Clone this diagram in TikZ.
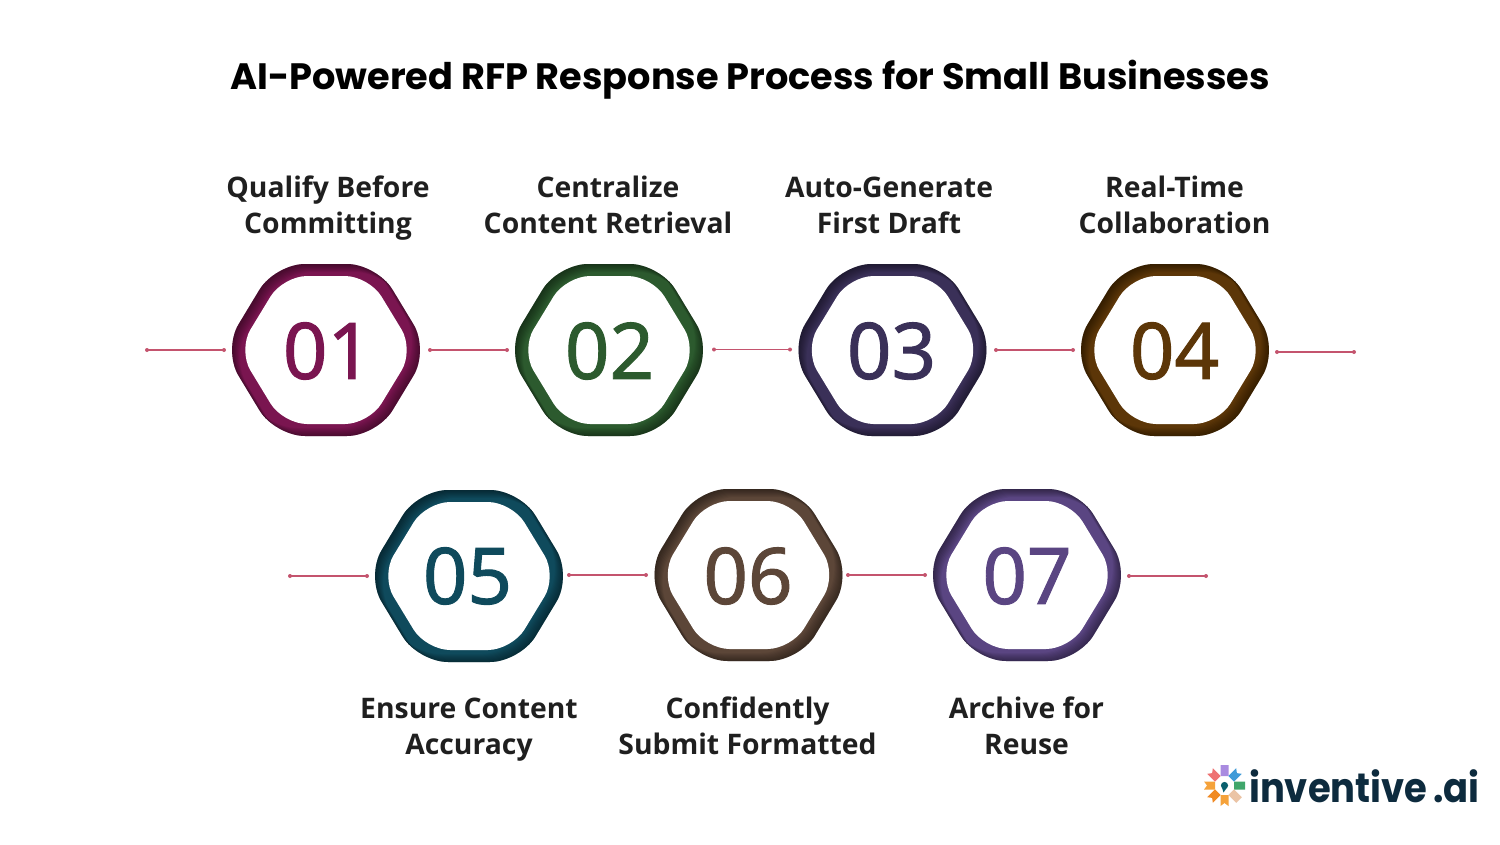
\documentclass[tikz,border=0pt]{standalone}
\usepackage{fontspec}
\setmainfont{Open Sans}
\newfontfamily\titlefont{Poppins}
\newfontfamily\labelfont{Open Sans}
\newfontfamily\numfont{Noto Sans}[FakeBold=1.2]
\newfontfamily\logofont{Poppins}[FakeStretch=0.9]
\usetikzlibrary{calc}
\definecolor{cA}{HTML}{7A1550}\definecolor{cB}{HTML}{2C5A2E}\definecolor{cC}{HTML}{3A3058}
\definecolor{cD}{HTML}{5C3608}\definecolor{cE}{HTML}{0F4A5C}\definecolor{cF}{HTML}{5C4638}
\definecolor{cG}{HTML}{5A4582}\definecolor{lnk}{HTML}{C4546E}\definecolor{logoink}{HTML}{0D2B3E}
\newcommand{\hexouterat}[3]{[rounded corners=30pt] ($(#1)+(-51+#2,-86+#3)$) -- ($(#1)+(51+#2,-86+#3)$) -- ($(#1)+(103+#2,#3)$) -- ($(#1)+(51+#2,86+#3)$) -- ($(#1)+(-51+#2,86+#3)$) -- ($(#1)+(-103+#2,#3)$) -- cycle}
\newcommand{\hexouter}[1]{\hexouterat{#1}{0}{0}}
\newcommand{\hexinner}[1]{[rounded corners=24pt] ($(#1)+(-43,-74)$) -- ($(#1)+(43,-74)$) -- ($(#1)+(88,0)$) -- ($(#1)+(43,74)$) -- ($(#1)+(-43,74)$) -- ($(#1)+(-88,0)$) -- cycle}
\newcommand{\hexring}[4]{%
  \coordinate (#1) at (#2,#3);
  \fill[#4] \hexouter{#1};
  \begin{scope}
    \clip \hexouter{#1};
    \foreach \d in {1,2,...,8}{
      \fill[black,opacity=.06,even odd rule] ($(#1)+(-130,-110)$) rectangle ($(#1)+(130,110)$)
        \hexouterat{#1}{\d}{\d};
      \fill[black,opacity=.05,even odd rule] ($(#1)+(-130,-110)$) rectangle ($(#1)+(130,110)$)
        \hexouterat{#1}{-\d}{-\d};
    }
  \end{scope}
  \fill[white] \hexinner{#1};
}
\tikzset{
  x=1pt,y=-1pt,
  heading/.style={font=\titlefont\bfseries\fontsize{36.7}{40}\selectfont,text=black,inner sep=0pt},
  steplabel/.style={font=\labelfont\bfseries\fontsize{28.3}{36}\selectfont,text=black!88,align=center,inner sep=0pt},
  stepnum/.style={font=\numfont\fontsize{78}{84}\selectfont,inner sep=0pt},
  link/.style={draw=lnk,line width=1.1pt},
}
\newcommand{\linkfrom}[3]{%
  \coordinate (#1a) at (#2);\coordinate (#1b) at (#3);
  \draw[link] (#1a) -- (#1b);
  \fill[lnk] (#1a) circle (2pt) (#1b) circle (2pt);}
\newcommand{\twolines}[2]{\strut #1\\\strut #2}
\begin{document}
\begin{tikzpicture}
\useasboundingbox (0,0) rectangle (1500,844);
\fill[white] (0,0) rectangle (1500,844);
\node[heading] (title) at (750,80) {AI-Powered RFP Response Process for Small Businesses};
\hexring{h1}{326}{350}{cA}
\hexring{h2}{609}{350}{cB}
\hexring{h3}{892.5}{350}{cC}
\hexring{h4}{1175}{350}{cD}
\hexring{h5}{469}{576}{cE}
\hexring{h6}{748.5}{575}{cF}
\hexring{h7}{1027}{575}{cG}
\node[stepnum,text=cA] (n1) at (327.5,351) {01};
\node[stepnum,text=cB] (n2) at (609.5,351) {02};
\node[stepnum,text=cC] (n3) at (891.5,351) {03};
\node[stepnum,text=cD] (n4) at (1174.5,351) {04};
\node[stepnum,text=cE] (n5) at (467.5,576) {05};
\node[stepnum,text=cF] (n6) at (748,576) {06};
\node[stepnum,text=cG] (n7) at (1027,576) {07};
\node[steplabel] (l1) at (328,208) {\twolines{Qualify Before}{Committing}};
\node[steplabel] (l2) at (608,208) {\twolines{Centralize}{Content Retrieval}};
\node[steplabel] (l3) at (889,208) {\twolines{Auto-Generate}{First Draft}};
\node[steplabel] (l4) at (1174.5,208) {\twolines{Real-Time}{Collaboration}};
\node[steplabel] (l5) at (469,729) {\twolines{Ensure Content}{Accuracy}};
\node[steplabel] (l6) at (747.5,729) {\twolines{Confidently}{Submit Formatted}};
\node[steplabel] (l7) at (1026.5,729) {\twolines{Archive for}{Reuse}};
\linkfrom{c1}{147,350}{224,350}
\linkfrom{c2}{430,350}{507,350}
\linkfrom{c3}{714,349.5}{790,349.5}
\linkfrom{c4}{996,350}{1073,350}
\linkfrom{c5}{1277,352}{1354,352}
\linkfrom{c6}{290,576}{367,576}
\linkfrom{c7}{569,575}{646,575}
\linkfrom{c8}{848,575}{925,575}
\linkfrom{c9}{1129,576}{1206,576}
% logo
\coordinate (lg) at (1224.5,785.5);
\foreach \ang/\col/\nt in {90/A98BE0/0,45/3F9BD8/3,0/3FA66B/0,-45/EBC4A5/0,-90/F5A23A/3,-135/F08A24/3,180/F5A23A/3,135/EE7272/3}{
  \definecolor{pc}{HTML}{\col}
  \fill[pc,rotate around={\ang:(lg)}] ($(lg)+(9.5,-4)$) -- ($(lg)+(20.5,-4)$) -- ($(lg)+(20.5-\nt,0)$) -- ($(lg)+(20.5,4)$) -- ($(lg)+(9.5,4)$) -- cycle;
}
\fill[logoink!75!cyan] (lg) circle (3.6pt);
\fill[logoink!75!cyan] ($(lg)+(-2.5,2)$) -- ($(lg)+(2.5,2)$) -- ($(lg)+(-1,7)$) -- cycle;
\node[font=\logofont\bfseries\fontsize{41}{44}\selectfont,text=logoink,inner sep=0pt,anchor=base west] (logo) at (1249,802) {inventive\hspace{6pt}.ai};
\end{tikzpicture}
\end{document}
